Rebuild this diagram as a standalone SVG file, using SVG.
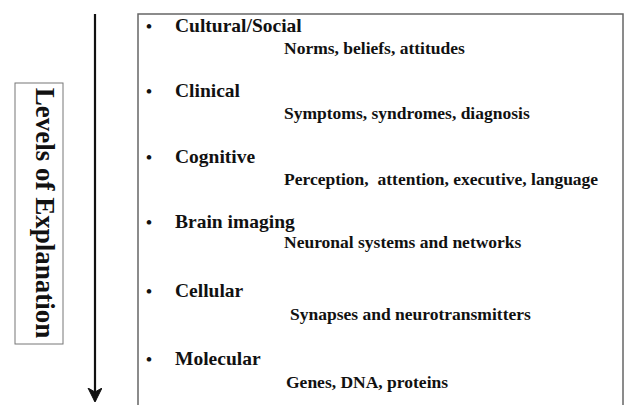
<svg xmlns="http://www.w3.org/2000/svg" width="625" height="405" viewBox="0 0 625 405" font-family="'Liberation Serif', 'Times New Roman', serif" font-weight="bold">
<defs>
<style>
text{font-family:'Liberation Serif','Times New Roman',serif;font-weight:700;fill:#111}
.h{font-size:19.5px}
.s{font-size:17.5px}
.b{font-size:17px}
.v{font-size:27px}
</style>
<marker id="ah" markerWidth="16" markerHeight="16" refX="13" refY="7" orient="auto" markerUnits="userSpaceOnUse">
<path d="M0,0 L14,7 L0,14 L4,7 Z" fill="#111" stroke="#111" stroke-width="1" stroke-linejoin="round"/>
</marker>
</defs>
<rect width="625" height="405" fill="#fff"/>
<g id="connectors">
<line x1="95" y1="14" x2="95" y2="401" stroke="#111" stroke-width="2.2" marker-end="url(#ah)"/>
</g>
<g id="label">
<rect x="15" y="83" width="48" height="261" fill="#fff" stroke="#777" stroke-width="1"/>
<text class="v" transform="translate(36,213) rotate(90)" text-anchor="middle">Levels of Explanation</text>
</g>
<g id="levels">
<rect x="138" y="14" width="485" height="400" fill="none" stroke="#666" stroke-width="1.5"/>
</g>
<g id="cultural">
<text class="b" x="146" y="32">•</text>
<text class="h" x="175" y="32">Cultural/Social</text>
<text class="s" x="284" y="54">Norms, beliefs, attitudes</text>
</g>
<g id="clinical">
<text class="b" x="146" y="97">•</text>
<text class="h" x="175" y="97">Clinical</text>
<text class="s" x="284" y="119">Symptoms, syndromes, diagnosis</text>
</g>
<g id="cognitive">
<text class="b" x="146" y="163">•</text>
<text class="h" x="175" y="163">Cognitive</text>
<text class="s" x="284" y="185" xml:space="preserve">Perception,  attention, executive, language</text>
</g>
<g id="brain">
<text class="b" x="146" y="228">•</text>
<text class="h" x="175" y="228">Brain imaging</text>
<text class="s" x="284" y="248">Neuronal systems and networks</text>
</g>
<g id="cellular">
<text class="b" x="146" y="297">•</text>
<text class="h" x="175" y="297">Cellular</text>
<text class="s" x="290" y="320">Synapses and neurotransmitters</text>
</g>
<g id="molecular">
<text class="b" x="146" y="365">•</text>
<text class="h" x="175" y="365">Molecular</text>
<text class="s" x="286" y="388">Genes, DNA, proteins</text>
</g>
</svg>
